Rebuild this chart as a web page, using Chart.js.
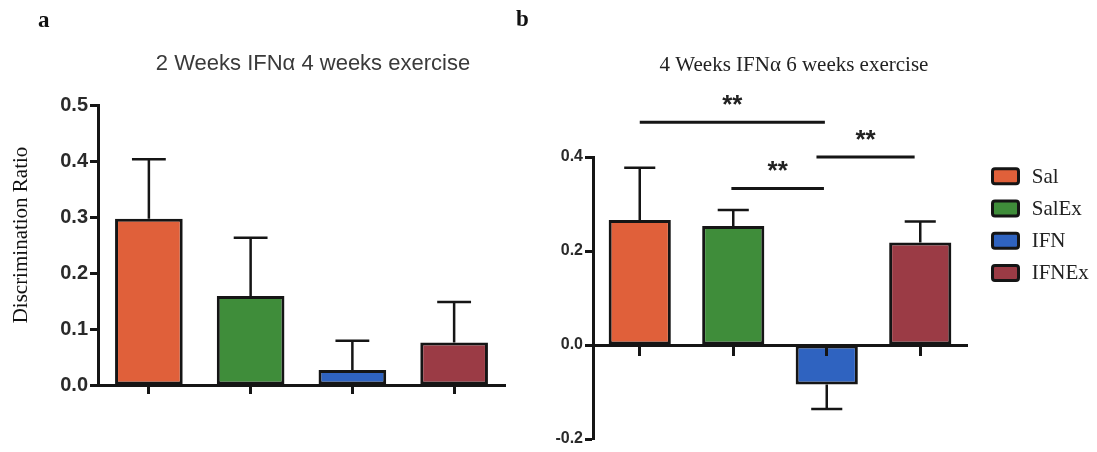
<!DOCTYPE html>
<html>
<head>
<meta charset="utf-8">
<script src="https://cdn.jsdelivr.net/npm/chart.js@4.4.1/dist/chart.umd.min.js"></script>
<style>
  html, body { margin: 0; padding: 0; background: #ffffff; }
  body { width: 1097px; height: 452px; position: relative; overflow: hidden; }
  canvas { position: absolute; top: 0; }
  #chartA { left: 0; }
  #chartB { left: 500px; }
</style>
</head>
<body>
<canvas id="chartA" width="520" height="452"></canvas>
<canvas id="chartB" width="597" height="452"></canvas>
<script>
// Groups and their fill colours
const groups = ['Sal', 'SalEx', 'IFN', 'IFNEx'];
const groupColors = ['#E0603A', '#3F8D3A', '#2F63C0', '#9B3B45'];

// Panel a: 2 weeks IFNα, 4 weeks exercise (mean ± SEM)
const meanA = [0.297, 0.159, 0.027, 0.076];
const semA  = [0.106, 0.104, 0.052, 0.072];

// Panel b: 4 weeks IFNα, 6 weeks exercise (mean ± SEM)
const meanB = [0.266, 0.253, -0.084, 0.218];
const semB  = [0.111, 0.034, 0.052, 0.045];

// Axis tick values
const ticksA = [0.0, 0.1, 0.2, 0.3, 0.4, 0.5];
const ticksB = [-0.2, 0.0, 0.2, 0.4];

// Significance comparisons in panel b (group indices, bracket height, mark)
const sigPairs   = [[0, 2], [1, 2], [2, 3]];
const sigHeights = [0.474, 0.333, 0.400];
const sigMarks   = ['**', '**', '**'];

// Text
const titleA = '2 Weeks IFN\u03B1 4 weeks exercise';
const titleB = '4 Weeks IFN\u03B1 6 weeks exercise';
const yTitleA = 'Discrimination Ratio';
const panelLetters = ['a', 'b'];

const INK = '#151515';
const SANS = '"Liberation Sans", Arial, sans-serif';
const SERIF = '"Liberation Serif", "Times New Roman", serif';

// One dataset per group so every bar carries its own colour and legend entry
function makeDatasets(means) {
  return groups.map((g, k) => ({
    label: g,
    data: groups.map((_, i) => (i === k ? means[i] : null)),
    backgroundColor: groupColors[k]
  }));
}

// Error bars (one-sided, away from zero) with a cap half the bar width
const errorBars = {
  id: 'errorBars',
  afterDatasetsDraw(chart, args, opts) {
    const { ctx } = chart;
    const y = chart.scales.y;
    ctx.save();
    ctx.strokeStyle = opts.color;
    ctx.lineWidth = opts.width;
    chart.data.datasets.forEach((ds, k) => {
      const bar = chart.getDatasetMeta(k).data[k];
      if (!bar) return;
      const m = ds.data[k];
      const e = opts.sem[k];
      const tip = m + (m < 0 ? -e : e);
      const y0 = y.getPixelForValue(m);
      const y1 = y.getPixelForValue(tip);
      const half = bar.width / 4;
      ctx.beginPath();
      ctx.moveTo(bar.x, y0);
      ctx.lineTo(bar.x, y1);
      ctx.moveTo(bar.x - half, y1);
      ctx.lineTo(bar.x + half, y1);
      ctx.stroke();
    });
    ctx.restore();
  }
};

// Titles, panel letters and the rotated y-axis caption
const panelText = {
  id: 'panelText',
  afterDraw(chart, args, opts) {
    const { ctx } = chart;
    (opts.items || []).forEach(it => {
      ctx.save();
      ctx.font = it.font;
      ctx.fillStyle = it.color;
      ctx.textAlign = it.align || 'left';
      ctx.textBaseline = it.baseline || 'alphabetic';
      ctx.translate(it.x, it.y);
      if (it.rotate) ctx.rotate(it.rotate);
      ctx.fillText(it.text, 0, 0);
      ctx.restore();
    });
  }
};

// Significance brackets drawn on the chart's own scales
const sigBrackets = {
  id: 'sigBrackets',
  afterDraw(chart, args, opts) {
    if (!opts.pairs) return;
    const { ctx } = chart;
    const { x, y } = chart.scales;
    ctx.save();
    ctx.strokeStyle = INK;
    ctx.fillStyle = '#222';
    ctx.lineWidth = opts.lineWidth;
    ctx.font = opts.font;
    ctx.textAlign = 'center';
    ctx.textBaseline = 'alphabetic';
    opts.pairs.forEach(([a, b], i) => {
      const xa = x.getPixelForValue(a + opts.trim[i][0]);
      const xb = x.getPixelForValue(b + opts.trim[i][1]);
      const yy = y.getPixelForValue(opts.heights[i]);
      ctx.beginPath();
      ctx.moveTo(xa, yy);
      ctx.lineTo(xb, yy);
      ctx.stroke();
      ctx.fillText(opts.marks[i], (xa + xb) / 2, yy - opts.lift);
    });
    ctx.restore();
  }
};

// Boxed legend to the right of the plot area
const boxLegend = {
  id: 'boxLegend',
  afterDraw(chart, args, opts) {
    if (!opts.show) return;
    const { ctx, chartArea } = chart;
    ctx.save();
    ctx.font = opts.font;
    ctx.textAlign = 'left';
    ctx.textBaseline = 'middle';
    chart.data.datasets.forEach((ds, i) => {
      const x = chartArea.right + opts.gap;
      const yTop = chartArea.top + opts.top + i * opts.step;
      ctx.beginPath();
      ctx.roundRect(x + 1.5, yTop + 1.5, opts.boxW - 3, opts.boxH - 3, 2.5);
      ctx.fillStyle = ds.backgroundColor;
      ctx.fill();
      ctx.lineWidth = 3;
      ctx.strokeStyle = INK;
      ctx.stroke();
      ctx.fillStyle = '#222';
      ctx.fillText(ds.label, x + opts.boxW + opts.textGap, yTop + opts.boxH / 2 + 1);
    });
    ctx.restore();
  }
};

const barStyle = {
  grouped: false,
  barPercentage: 0.665,
  categoryPercentage: 1,
  borderWidth: 3,
  borderColor: INK,
  borderSkipped: false
};

function tickFont(size) {
  return { family: SANS, size: size, weight: 'bold' };
}

// Panel a
new Chart(document.getElementById('chartA'), {
  type: 'bar',
  data: { labels: groups, datasets: makeDatasets(meanA) },
  options: {
    responsive: false,
    animation: false,
    devicePixelRatio: 1,
    layout: { padding: { left: 0, right: 15, top: 105, bottom: 58 } },
    datasets: { bar: barStyle },
    scales: {
      x: {
        offset: true,
        grid: { offset: false, drawOnChartArea: false, tickLength: 9, tickWidth: 3, color: INK },
        border: { width: 3, color: INK },
        ticks: { display: false }
      },
      y: {
        min: 0,
        max: 0.5,
        afterFit(s) { s.width = 98; },
        afterBuildTicks(s) { s.ticks = ticksA.map(v => ({ value: v })); },
        grid: { drawOnChartArea: false, tickLength: 8, tickWidth: 3, color: INK },
        border: { width: 3, color: INK },
        ticks: { padding: 2, color: '#2a2a2a', font: tickFont(20), callback: v => Number(v).toFixed(1) }
      }
    },
    plugins: {
      legend: { display: false },
      tooltip: { enabled: false },
      errorBars: { sem: semA, color: INK, width: 2.5 },
      panelText: {
        items: [
          { text: panelLetters[0], x: 38, y: 27, font: 'bold 23px ' + SERIF, color: '#111' },
          { text: titleA, x: 313, y: 70, font: '22px ' + SANS, color: '#3a3a3a', align: 'center' },
          { text: yTitleA, x: 21, y: 235, font: '21px ' + SERIF, color: '#111', align: 'center', baseline: 'middle', rotate: -Math.PI / 2 }
        ]
      }
    }
  },
  plugins: [errorBars, panelText]
});

// Panel b: the category axis sits on zero and is drawn over the bars
new Chart(document.getElementById('chartB'), {
  type: 'bar',
  data: { labels: groups, datasets: makeDatasets(meanB) },
  options: {
    responsive: false,
    animation: false,
    devicePixelRatio: 1,
    layout: { padding: { left: 0, right: 130, top: 157, bottom: 13 } },
    datasets: { bar: barStyle },
    scales: {
      x: {
        position: { y: 0 },
        offset: true,
        grid: { z: 1, offset: false, drawOnChartArea: false, tickLength: 9, tickWidth: 3, color: INK },
        border: { z: 1, width: 3, color: INK },
        ticks: { display: false }
      },
      y: {
        min: -0.2,
        max: 0.4,
        afterFit(s) { s.width = 93; },
        afterBuildTicks(s) { s.ticks = ticksB.map(v => ({ value: v })); },
        grid: { drawOnChartArea: false, tickLength: 8, tickWidth: 3, color: INK },
        border: { width: 3, color: INK },
        ticks: { padding: 2, color: '#2a2a2a', font: tickFont(16), callback: v => Number(v).toFixed(1) }
      }
    },
    plugins: {
      legend: { display: false },
      tooltip: { enabled: false },
      errorBars: { sem: semB, color: INK, width: 2.5 },
      sigBrackets: {
        pairs: sigPairs,
        heights: sigHeights,
        marks: sigMarks,
        trim: [[0, -0.02], [-0.02, -0.03], [-0.11, -0.06]],
        lineWidth: 3,
        lift: 9,
        font: 'bold 26px ' + SANS
      },
      boxLegend: {
        show: true,
        gap: 24,
        top: 10.3,
        step: 32.2,
        boxW: 29,
        boxH: 18,
        textGap: 11.7,
        font: '21px ' + SERIF
      },
      panelText: {
        items: [
          { text: panelLetters[1], x: 16, y: 26, font: 'bold 23px ' + SERIF, color: '#111' },
          { text: titleB, x: 294, y: 70.5, font: '21px ' + SERIF, color: '#222', align: 'center' }
        ]
      }
    }
  },
  plugins: [errorBars, sigBrackets, boxLegend, panelText]
});
</script>
</body>
</html>
